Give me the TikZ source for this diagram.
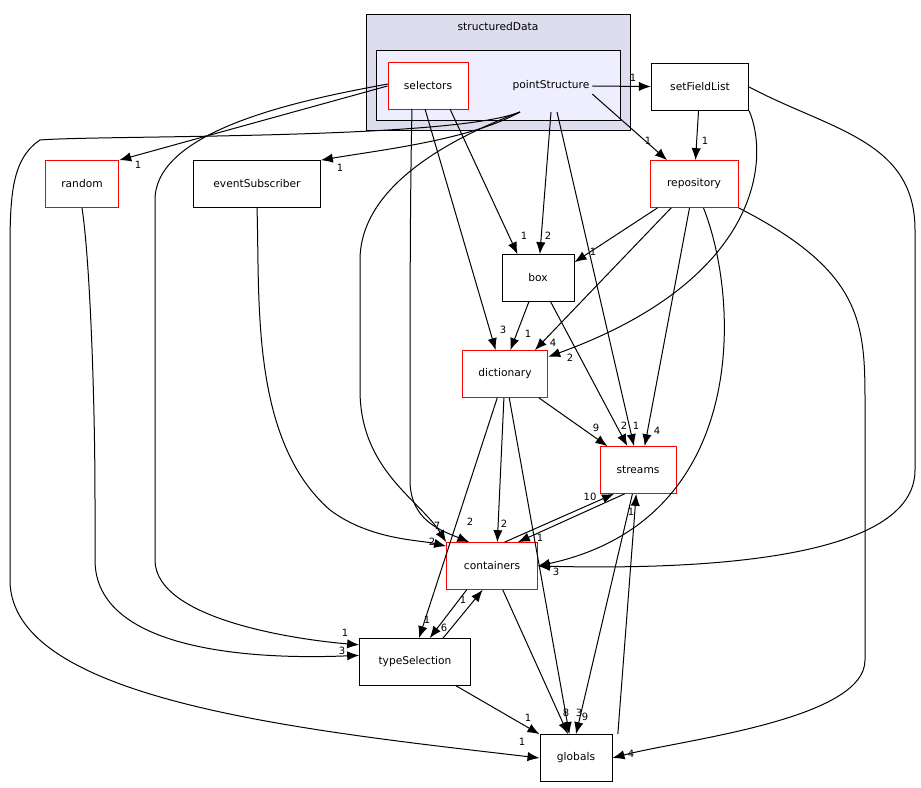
\documentclass[tikz,border=0pt]{standalone}
\usepackage{fontspec}
\setmainfont{DejaVu Sans}
\usetikzlibrary{arrows.meta}
\begin{document}
\tikzset{
  dir/.style={draw=black, fill=white, minimum height=35pt, inner sep=0pt, line width=0.75pt, font=\fontsize{8}{9}\selectfont},
  dirred/.style={dir, draw=red},
  dep/.style={-{Latex[length=9pt,width=7pt]}, black, line width=0.75pt},
  cnt/.style={font=\fontsize{7.5}{8}\selectfont, inner sep=0pt}
}
\begin{tikzpicture}[x=0.75pt,y=0.75pt,yscale=-1,xscale=1]
\useasboundingbox (0,0) rectangle (921,788);

%Clusters
\draw [line width=0.75pt, fill={rgb,255:red,221;green,221;blue,238}] (366,15) rectangle (630,131);
\node [font=\fontsize{8}{9}\selectfont] (sdlabel) at (498,27) {structuredData};
\draw [line width=0.75pt, fill={rgb,255:red,238;green,238;blue,255}] (376,51) rectangle (620,121);

%Directories
\node [dirred, minimum width=60pt] (selectors) at (428,86) {selectors};
\node [font=\fontsize{8}{9}\selectfont, inner sep=2pt] (ps) at (551,86) {pointStructure};
\node [dir, minimum width=73pt] (setFieldList) at (700,87) {setFieldList};
\node [dirred, minimum width=55pt] (random) at (82,184) {random};
\node [dir, minimum width=95pt] (eventSubscriber) at (257,184) {eventSubscriber};
\node [dirred, minimum width=66pt] (repository) at (694,184) {repository};
\node [dir, minimum width=54pt] (box) at (538,278) {box};
\node [dirred, minimum width=64pt] (dictionary) at (505,374) {dictionary};
\node [dirred, minimum width=57pt] (streams) at (638,470) {streams};
\node [dirred, minimum width=68pt] (containers) at (492,566) {containers};
\node [dir, minimum width=83pt] (typeSelection) at (415,662) {typeSelection};
\node [dir, minimum width=54pt] (globals) at (576,758) {globals};

%pointStructure
\coordinate (pst) at (520,112);
\draw [dep] (ps.east) -- (setFieldList);
\draw [dep] (ps.south east) -- (repository);
\draw [dep] (551,112) -- (box);
\draw [dep] (557,112) -- ([xshift=-3pt]streams.north);
\draw [dep] (pst) .. controls (470,140) and (380,150) .. (eventSubscriber.north east);
\draw [dep] (pst) .. controls (420,150) and (360,200) .. (360,260) -- (360,390) .. controls (360,470) and (420,500) .. (containers.north west);
\draw [dep] (pst) .. controls (450,140) and (100,135) .. (40,140) .. controls (10,160) and (10,200) .. (10,260) -- (10,580) .. controls (10,700) and (300,730) .. (globals.west);

%selectors
\draw [dep] (selectors.west) -- (random.north east);
\draw [dep] (388,84) .. controls (300,100) and (155,130) .. (155,200) -- (155,560) .. controls (155,620) and (300,640) .. ([yshift=5pt]typeSelection.north west);
\draw [dep] (450,109) -- ([xshift=12pt]box.north west);
\draw [dep] (425,109) -- ([xshift=-7pt]dictionary.north);
\draw [dep] (412,109) .. controls (410,200) and (410,300) .. (410,480) .. controls (410,520) and (440,530) .. ([xshift=-17pt]containers.north);

%setFieldList
\draw [dep] (setFieldList) -- (repository);
\draw [dep] (setFieldList.south east) .. controls (770,160) and (760,280) .. ([yshift=5pt]dictionary.north east);
\draw [dep] (setFieldList.east) .. controls (830,130) and (915,140) .. (915,230) -- (915,470) .. controls (915,560) and (700,570) .. (containers.east);

%others
\draw [dep] (random.south) .. controls (90,260) and (95,400) .. (95,500) -- (95,560) .. controls (95,650) and (250,660) .. ([yshift=-5pt]typeSelection.west);
\draw [dep] (eventSubscriber.south) .. controls (260,300) and (250,440) .. (330,510) .. controls (370,540) and (420,540) .. ([yshift=3pt]containers.north west);
\draw [dep] (repository) -- ([yshift=6pt]box.north east);
\draw [dep] (repository) -- ([xshift=-10pt]dictionary.north east);
\draw [dep] (repository) -- ([xshift=5pt]streams.north);
\draw [dep] (repository) .. controls (740,300) and (750,520) .. (containers.east);
\draw [dep] (repository.south east) .. controls (860,270) and (865,320) .. (865,400) -- (865,660) .. controls (865,720) and (680,740) .. (globals.east);
\draw [dep] (box) -- ([xshift=4pt]dictionary.north);
\draw [dep] (box) -- ([xshift=-8pt]streams.north);
\draw [dep] (dictionary) -- ([xshift=6pt]streams.north west);
\draw [dep] (dictionary) -- ([xshift=4pt]containers.north);
\draw [dep] (dictionary) -- ([xshift=3pt]typeSelection.north);
\draw [dep] (dictionary) -- ([xshift=-5pt]globals.north);
\draw [dep] ([xshift=-10pt]streams.south) -- ([xshift=-15pt]containers.north east);
\draw [dep] ([xshift=-25pt]containers.north east) -- ([xshift=-18pt]streams.south);
\draw [dep] (streams) -- (globals.north);
\draw [dep] ([xshift=4pt]globals.north east) -- (streams);
\draw [dep] ([xshift=-19pt]containers.south) -- ([xshift=11pt]typeSelection.north);
\draw [dep] ([xshift=21pt]typeSelection.north) -- ([xshift=-7pt]containers.south);
\draw [dep] (containers) -- ([xshift=-6pt]globals.north);
\draw [dep] (typeSelection) -- (globals.north west);

%Counts
\node [cnt] (c1) at (633,78) {1};
\node [cnt] (c2) at (648,141) {1};
\node [cnt] (c3) at (705,141) {1};
\node [cnt] (c4) at (548,236) {2};
\node [cnt] (c5) at (524,236) {1};
\node [cnt] (c6) at (340,168) {1};
\node [cnt] (c7) at (138,165) {1};
\node [cnt] (c8) at (593,252) {1};
\node [cnt] (c9) at (503,330) {3};
\node [cnt] (c10) at (528,334) {1};
\node [cnt] (c11) at (553,343) {4};
\node [cnt] (c12) at (570,358) {2};
\node [cnt] (c13) at (596,428) {9};
\node [cnt] (c14) at (624,426) {2};
\node [cnt] (c15) at (636,426) {1};
\node [cnt] (c16) at (657,431) {4};
\node [cnt] (c17) at (590,497) {10};
\node [cnt] (c18) at (631,512) {1};
\node [cnt] (c19) at (437,526) {7};
\node [cnt] (c20) at (470,522) {2};
\node [cnt] (c21) at (504,524) {2};
\node [cnt] (c22) at (432,542) {2};
\node [cnt] (c23) at (540,538) {1};
\node [cnt] (c24) at (556,572) {3};
\node [cnt] (c25) at (463,600) {1};
\node [cnt] (c26) at (345,633) {1};
\node [cnt] (c27) at (342,651) {3};
\node [cnt] (c28) at (427,620) {1};
\node [cnt] (c29) at (444,628) {6};
\node [cnt] (c30) at (528,718) {1};
\node [cnt] (c31) at (566,713) {8};
\node [cnt] (c32) at (579,713) {3};
\node [cnt] (c33) at (585,717) {9};
\node [cnt] (c34) at (631,754) {4};
\node [cnt] (c35) at (522,742) {1};
\end{tikzpicture}
\end{document}
